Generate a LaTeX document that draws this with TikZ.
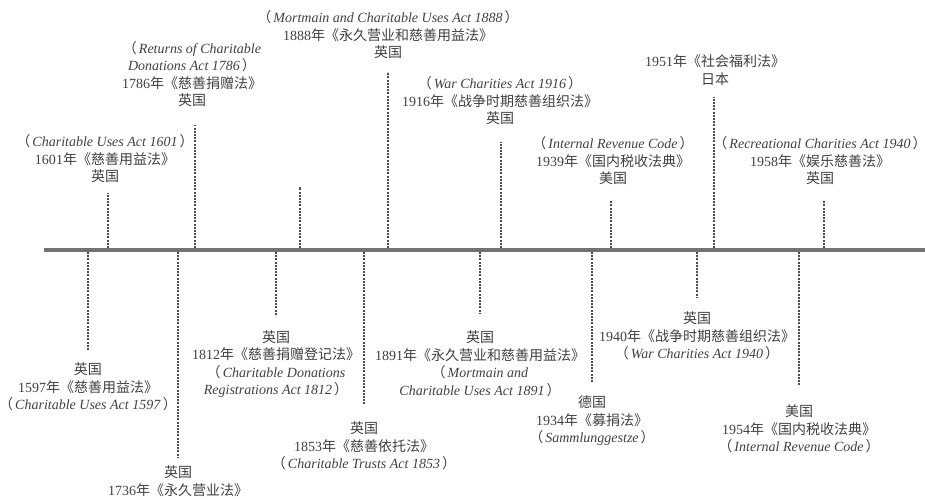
\documentclass[tikz,border=0pt]{standalone}
\usepackage{fontspec}
\setmainfont{Liberation Serif}
\newfontfamily\zhfont{Noto Sans CJK SC}
\newcommand{\zh}[1]{{\zhfont #1}}
\newcommand{\zhlp}{{\zhfont （}\hspace{2pt}}
\newcommand{\zhrp}{\hspace{2pt}{\zhfont ）}}
\newcommand{\en}[1]{\zhlp\textit{#1}\zhrp}

\tikzset{
  law/.style={align=center, inner sep=0pt, text=black!75,
    font=\fontsize{14}{17.5}\selectfont},
  tick/.style={draw, black!70, line width=1.1pt, dash pattern=on 2pt off 1.2pt},
  axis/.style={draw, black!55, line width=3.5pt}
}

\begin{document}
\begin{tikzpicture}[x=1pt,y=-1pt]
\useasboundingbox (0,0) rectangle (925,499);

% time axis
\coordinate (start) at (44,250);
\coordinate (end) at (925,250);
\path[axis] (start) -- (end);

% laws above the axis
\node[law] (l1601) at (105,159) {\en{Charitable Uses Act 1601}\\1601\zh{年《慈善用益法》}\\\zh{英国}};
\node[law] (l1786) at (192,74) {\zhlp\textit{Returns of Charitable}\\\textit{Donations Act 1786}\zhrp\\1786\zh{年《慈善捐赠法》}\\\zh{英国}};
\node[law] (l1888) at (388,35) {\en{Mortmain and Charitable Uses Act 1888}\\1888\zh{年《永久营业和慈善用益法》}\\\zh{英国}};
\node[law] (l1916) at (500,101) {\en{War Charities Act 1916}\\1916\zh{年《战争时期慈善组织法》}\\\zh{英国}};
\node[law] (l1939) at (613,161) {\en{Internal Revenue Code}\\1939\zh{年《国内税收法典》}\\\zh{美国}};
\node[law] (l1951) at (715,70) {1951\zh{年《社会福利法》}\\\zh{日本}};
\node[law] (l1958) at (820,161) {\en{Recreational Charities Act 1940}\\1958\zh{年《娱乐慈善法》}\\\zh{英国}};

% laws below the axis
\node[law] (l1597) at (88,387) {\zh{英国}\\1597\zh{年《慈善用益法》}\\\en{Charitable Uses Act 1597}};
\node[law] (l1736) at (178,481) {\zh{英国}\\1736\zh{年《永久营业法》}};
\node[law] (l1812) at (276,364) {\zh{英国}\\1812\zh{年《慈善捐赠登记法》}\\\zhlp\textit{Charitable Donations}\\\textit{Registrations Act 1812}\zhrp};
\node[law] (l1853) at (364,446) {\zh{英国}\\1853\zh{年《慈善依托法》}\\\en{Charitable Trusts Act 1853}};
\node[law] (l1891) at (480,364) {\zh{英国}\\1891\zh{年《永久营业和慈善用益法》}\\\zhlp\textit{Mortmain and}\\\textit{Charitable Uses Act 1891}\zhrp};
\node[law] (l1934) at (592,421) {\zh{德国}\\1934\zh{年《募捐法》}\\\en{Sammlunggestze}};
\node[law] (l1940) at (697,336) {\zh{英国}\\1940\zh{年《战争时期慈善组织法》}\\\en{War Charities Act 1940}};
\node[law] (l1954) at (799,429) {\zh{美国}\\1954\zh{年《国内税收法典》}\\\en{Internal Revenue Code}};

% dashed ticks, upper side
\coordinate (a1601) at (108,248); \coordinate (e1601) at (108,193);
\coordinate (a1786) at (195,248); \coordinate (e1786) at (195,125);
\coordinate (a1800) at (300,248); \coordinate (e1800) at (300,187);
\coordinate (a1888) at (388,248); \coordinate (e1888) at (388,72);
\coordinate (a1916) at (501,248); \coordinate (e1916) at (501,142);
\coordinate (a1939) at (611,248); \coordinate (e1939) at (611,200);
\coordinate (a1951) at (714,248); \coordinate (e1951) at (714,97);
\coordinate (a1958) at (824,248); \coordinate (e1958) at (824,200);
\path[tick] (a1601) -- (e1601);
\path[tick] (a1786) -- (e1786);
\path[tick] (a1800) -- (e1800);
\path[tick] (a1888) -- (e1888);
\path[tick] (a1916) -- (e1916);
\path[tick] (a1939) -- (e1939);
\path[tick] (a1951) -- (e1951);
\path[tick] (a1958) -- (e1958);

% dashed ticks, lower side
\coordinate (a1597) at (88,252); \coordinate (e1597) at (88,350);
\coordinate (a1736) at (178,252); \coordinate (e1736) at (178,457);
\coordinate (a1812) at (276,252); \coordinate (e1812) at (276,316);
\coordinate (a1853) at (364,252); \coordinate (e1853) at (364,405);
\coordinate (a1891) at (480,252); \coordinate (e1891) at (480,313);
\coordinate (a1934) at (592,252); \coordinate (e1934) at (592,382);
\coordinate (a1940) at (697,252); \coordinate (e1940) at (697,298);
\coordinate (a1954) at (799,252); \coordinate (e1954) at (799,385);
\path[tick] (a1597) -- (e1597);
\path[tick] (a1736) -- (e1736);
\path[tick] (a1812) -- (e1812);
\path[tick] (a1853) -- (e1853);
\path[tick] (a1891) -- (e1891);
\path[tick] (a1934) -- (e1934);
\path[tick] (a1940) -- (e1940);
\path[tick] (a1954) -- (e1954);
\end{tikzpicture}
\end{document}
